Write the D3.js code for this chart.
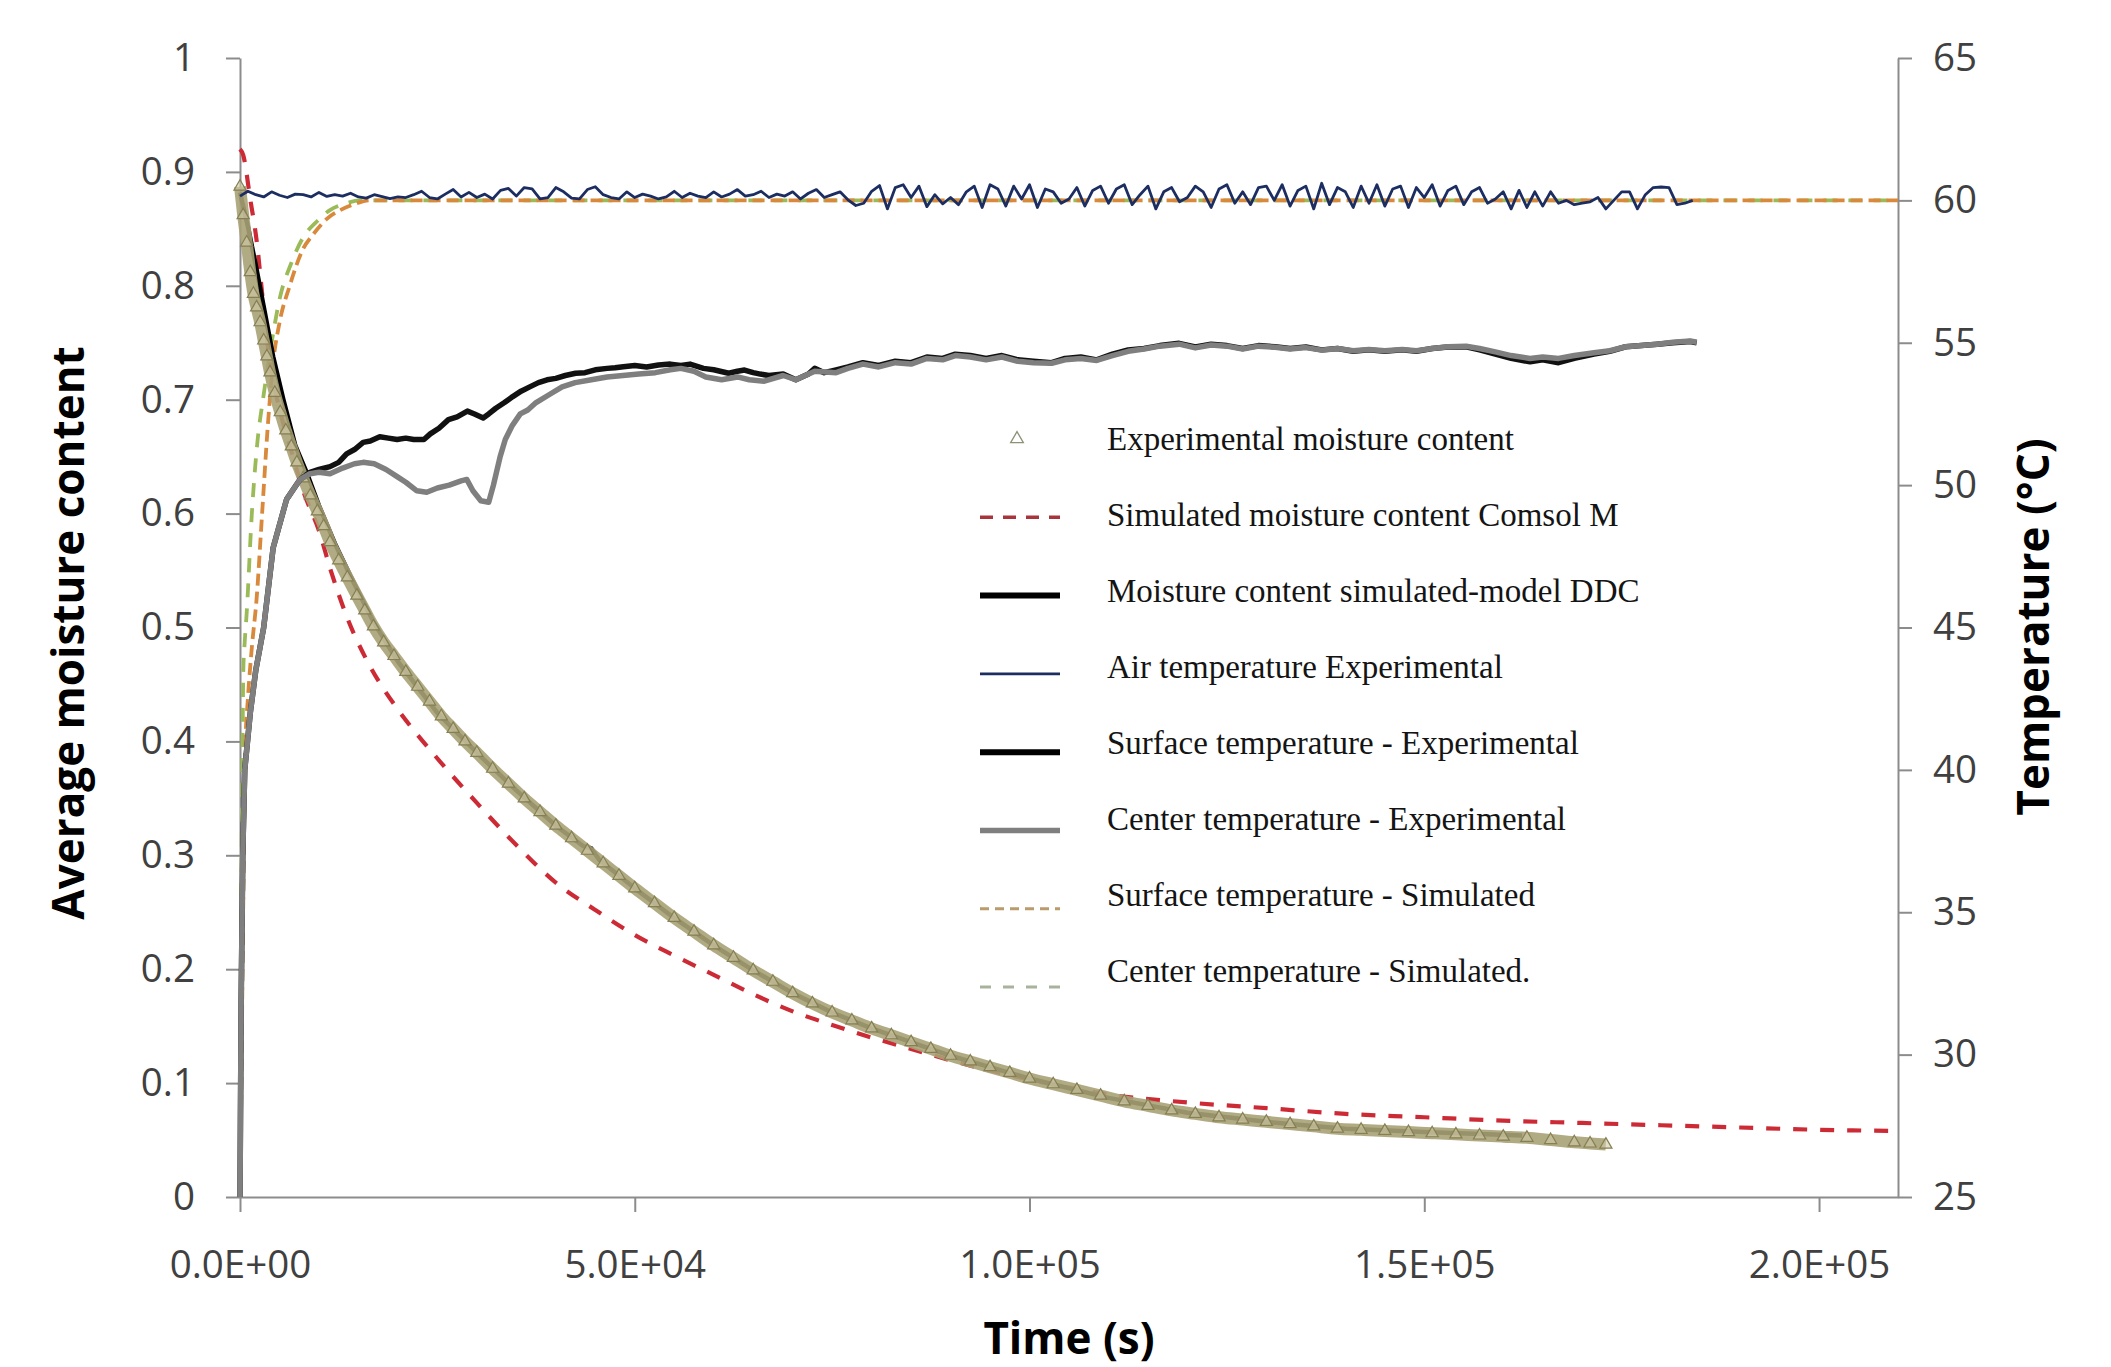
<!DOCTYPE html>
<html>
<head>
<meta charset="utf-8">
<script src="https://cdn.jsdelivr.net/npm/d3@7"></script>
<style>
  body { margin: 0; background: #fff; }
  svg { display: block; }
</style>
</head>
<body>
<div id="chart"></div>
<script>
// ---- data ----
const timeTicks = [0, 50000, 100000, 150000, 200000]
const moistureTicks = [0, 0.1, 0.2, 0.3, 0.4, 0.5, 0.6, 0.7, 0.8, 0.9, 1]
const tempTicks = [25, 30, 35, 40, 45, 50, 55, 60, 65]

// experimental moisture content [time s, moisture]
const expMoisture = [
  [0, 0.887], [400, 0.862], [850, 0.838], [1300, 0.812], [1700, 0.793], [2100, 0.781],
  [2550, 0.768], [3000, 0.752], [3400, 0.738], [3800, 0.724], [4400, 0.706], [5100, 0.689],
  [5800, 0.673], [6500, 0.659], [7200, 0.645], [8000, 0.631], [8900, 0.616], [9800, 0.602],
  [10600, 0.589], [11400, 0.575], [12500, 0.559], [13600, 0.544], [14800, 0.528], [15800, 0.515],
  [16900, 0.501], [18200, 0.487], [19500, 0.475], [21000, 0.461], [22500, 0.448], [24000, 0.435],
  [25500, 0.422], [27000, 0.411], [28500, 0.4], [30000, 0.39], [32000, 0.376], [34000, 0.363],
  [36000, 0.35], [38000, 0.338], [40000, 0.326], [42000, 0.315], [44000, 0.304], [46000, 0.293],
  [48000, 0.282], [50000, 0.271], [52500, 0.258], [55000, 0.245], [57500, 0.233], [60000, 0.221],
  [62500, 0.21], [65000, 0.199], [67500, 0.189], [70000, 0.179], [72500, 0.17], [75000, 0.162],
  [77500, 0.155], [80000, 0.148], [82500, 0.142], [85000, 0.136], [87500, 0.13], [90000, 0.124],
  [92500, 0.119], [95000, 0.114], [97500, 0.109], [100000, 0.104], [103000, 0.099], [106000, 0.094],
  [109000, 0.089], [112000, 0.084], [115000, 0.08], [118000, 0.076], [121000, 0.073], [124000, 0.07],
  [127000, 0.068], [130000, 0.066], [133000, 0.064], [136000, 0.062], [139000, 0.06], [142000, 0.059],
  [145000, 0.058], [148000, 0.057], [151000, 0.056], [154000, 0.055], [157000, 0.054], [160000, 0.053],
  [163000, 0.052], [166000, 0.05], [169000, 0.048], [171000, 0.047], [173000, 0.046]
]

// simulated moisture content, Comsol
const comsolMoisture = [
  [0, 0.92], [400, 0.915], [1300, 0.876], [2100, 0.84], [3000, 0.78], [3800, 0.732],
  [5000, 0.692], [6500, 0.655], [8000, 0.62], [10000, 0.585], [11500, 0.55], [13500, 0.51],
  [16000, 0.472], [18000, 0.448], [20000, 0.428], [25000, 0.385], [30000, 0.346], [35000, 0.309],
  [40000, 0.276], [45000, 0.252], [50000, 0.23], [55000, 0.212], [60000, 0.195], [65000, 0.178],
  [70000, 0.163], [75000, 0.151], [80000, 0.14], [85000, 0.13], [90000, 0.12], [95000, 0.111],
  [100000, 0.103], [105000, 0.096], [110000, 0.09], [120000, 0.083], [130000, 0.078], [140000, 0.073],
  [150000, 0.07], [160000, 0.067], [170000, 0.065], [180000, 0.063], [190000, 0.061], [200000, 0.059],
  [210000, 0.058]
]

// simulated moisture content, model DDC
const ddcMoisture = [
  [0, 0.882], [1000, 0.852], [2000, 0.818], [3000, 0.782], [4200, 0.738], [5500, 0.7],
  [7000, 0.66], [8450, 0.636], [10000, 0.607], [12000, 0.574], [14000, 0.545], [16900, 0.505],
  [20000, 0.47], [25000, 0.425], [30000, 0.39], [35000, 0.357], [40000, 0.326], [43500, 0.308],
  [44500, 0.306], [45500, 0.296], [50000, 0.271], [55000, 0.245], [60000, 0.221], [65000, 0.199],
  [70000, 0.179], [75000, 0.162], [80000, 0.148], [85000, 0.136], [90000, 0.124], [95000, 0.114],
  [100000, 0.104], [110000, 0.087], [120000, 0.074], [130000, 0.066], [140000, 0.06], [150000, 0.057],
  [162400, 0.054]
]

// air temperature, experimental, sampled every 1000 s from t = 0
const airStep = 1000
const airTemp = [
  60.15, 60.32, 60.2, 60.12, 60.3, 60.18, 60.1, 60.22, 60.2, 60.12,
  60.28, 60.14, 60.2, 60.15, 60.25, 60.12, 60.08, 60.2, 60.13, 60.06,
  60.12, 60.1, 60.2, 60.32, 60.1, 60.05, 60.22, 60.38, 60.12, 60.28,
  60.1, 60.22, 60.05, 60.35, 60.42, 60.15, 60.45, 60.4, 60.05, 60.1,
  60.45, 60.3, 60.08, 60.05, 60.38, 60.48, 60.2, 60.1, 60.05, 60.3,
  60.1, 60.22, 60.15, 60.05, 60.12, 60.32, 60.1, 60.25, 60.15, 60.1,
  60.3, 60.12, 60.22, 60.38, 60.15, 60.2, 60.32, 60.1, 60.22, 60.15,
  60.3, 60.05, 60.25, 60.38, 60.1, 60.2, 60.3, 60.02, 59.82, 59.9,
  60.32, 60.52, 59.7, 60.45, 60.55, 60.1, 60.5, 59.78, 60.2, 59.88,
  60.1, 59.85, 60.3, 60.5, 59.75, 60.55, 60.4, 59.8, 60.5, 60.05,
  60.55, 59.75, 60.4, 60.3, 59.9, 60.05, 60.45, 59.8, 60.35, 60.5,
  59.9, 60.4, 60.55, 59.85, 60.2, 60.5, 59.7, 60.3, 60.45, 59.95,
  60.1, 60.5, 60.3, 59.75, 60.4, 60.55, 59.9, 60.3, 59.85, 60.45,
  60.5, 60.0, 60.55, 59.8, 60.35, 60.5, 59.7, 60.6, 59.85, 60.45,
  60.3, 59.75, 60.5, 59.9, 60.55, 59.8, 60.4, 60.5, 59.75, 60.45,
  60.1, 60.55, 59.8, 60.35, 60.5, 59.85, 60.3, 60.45, 59.9, 60.05,
  60.3, 59.7, 60.35, 59.75, 60.3, 59.8, 60.3, 59.9, 60.0, 59.85,
  59.9, 59.95, 60.1, 59.7, 60.0, 60.3, 60.3, 59.7, 60.2, 60.45,
  60.47, 60.45, 59.85, 59.9, 60.0
]

// surface temperature, experimental [time s, degC]
const surfaceTemp = [
  [0, 25], [150, 32], [350, 37], [600, 40], [1300, 42], [2000, 43.5], [3000, 45], [4200, 47.8],
  [5900, 49.5], [7600, 50.2], [8870, 50.45], [10000, 50.55], [11400, 50.65], [12500, 50.8],
  [13500, 51.1], [14500, 51.25], [15600, 51.5], [16500, 51.55], [17700, 51.7], [18800, 51.65],
  [19900, 51.6], [21000, 51.65], [22000, 51.6], [23300, 51.6], [24100, 51.8], [25200, 52.0],
  [26400, 52.3], [27500, 52.4], [28800, 52.6], [29700, 52.5], [30800, 52.36], [31500, 52.5],
  [32400, 52.7], [33500, 52.9], [34500, 53.1], [35600, 53.3], [36700, 53.45], [37800, 53.6],
  [38900, 53.7], [40000, 53.75], [41200, 53.85], [42500, 53.93], [43700, 53.95], [45000, 54.05],
  [46500, 54.1], [47500, 54.12], [48550, 54.16], [50000, 54.2], [51500, 54.15], [53000, 54.22],
  [54500, 54.25], [55840, 54.2], [57000, 54.25], [58700, 54.1], [60000, 54.05], [61900, 53.93],
  [63000, 54.0], [63900, 54.04], [65000, 53.95], [65900, 53.9], [67000, 53.85], [68800, 53.9],
  [70400, 53.7], [72000, 53.9], [72800, 54.1], [74000, 53.95], [75500, 54.05], [77000, 54.15],
  [78900, 54.3], [80900, 54.2], [83000, 54.35], [85000, 54.3], [87000, 54.5], [89000, 54.45],
  [90600, 54.6], [92500, 54.55], [94500, 54.45], [96500, 54.55], [98500, 54.4], [100500, 54.35],
  [102800, 54.3], [104500, 54.45], [106500, 54.5], [108500, 54.4], [110500, 54.6], [112500, 54.75],
  [114500, 54.8], [116500, 54.9], [118950, 54.98], [121000, 54.85], [123000, 54.95], [125000, 54.9],
  [127000, 54.8], [129000, 54.9], [131100, 54.86], [133000, 54.8], [135000, 54.85], [137000, 54.75],
  [139000, 54.8], [141000, 54.7], [143000, 54.75], [145000, 54.7], [147200, 54.75], [149000, 54.7],
  [151000, 54.8], [153000, 54.85], [155300, 54.86], [157000, 54.75], [159000, 54.6], [161000, 54.45],
  [163400, 54.33], [165000, 54.4], [167000, 54.3], [169000, 54.45], [171500, 54.6], [173500, 54.7],
  [175500, 54.86], [177500, 54.9], [179500, 54.95], [181500, 55.0], [183700, 55.04], [184500, 55.0]
]

// center temperature, experimental [time s, degC]
const centerTemp = [
  [0, 25], [150, 32], [350, 37], [600, 40], [1300, 42], [2000, 43.5], [3000, 45], [4200, 47.8],
  [5900, 49.5], [7600, 50.2], [8870, 50.4], [10000, 50.45], [11400, 50.4], [13000, 50.6],
  [14500, 50.75], [15600, 50.8], [17000, 50.75], [18500, 50.55], [19900, 50.3], [21000, 50.1],
  [22400, 49.8], [23650, 49.75], [25000, 49.9], [26500, 50.0], [28000, 50.15], [28730, 50.2],
  [29500, 49.8], [30500, 49.45], [31500, 49.4], [32100, 50.0], [32950, 51.0], [33600, 51.6],
  [34500, 52.1], [35500, 52.5], [36450, 52.64], [37500, 52.9], [39300, 53.2], [40800, 53.45],
  [42450, 53.6], [44500, 53.7], [46500, 53.8], [48500, 53.85], [50500, 53.9], [52600, 53.95],
  [54500, 54.05], [55840, 54.1], [57500, 54.0], [59000, 53.8], [61000, 53.7], [63000, 53.8],
  [64500, 53.7], [66400, 53.65], [68800, 53.85], [70400, 53.7], [72800, 54.0], [75500, 53.95],
  [77000, 54.1], [78900, 54.25], [80900, 54.15], [83000, 54.3], [85000, 54.25], [87000, 54.45],
  [89000, 54.4], [90600, 54.55], [92500, 54.5], [94500, 54.4], [96500, 54.5], [98500, 54.35],
  [100500, 54.3], [102800, 54.28], [104500, 54.4], [106500, 54.45], [108500, 54.38], [110500, 54.55],
  [112500, 54.7], [114500, 54.78], [116500, 54.88], [118950, 54.95], [121000, 54.82], [123000, 54.92],
  [125000, 54.88], [127000, 54.78], [129000, 54.88], [131100, 54.84], [133000, 54.78], [135000, 54.83],
  [137000, 54.74], [139000, 54.8], [141000, 54.72], [143000, 54.76], [145000, 54.72], [147200, 54.76],
  [149000, 54.72], [151000, 54.8], [153000, 54.86], [155300, 54.88], [157000, 54.8], [159000, 54.68],
  [161000, 54.55], [163400, 54.45], [165000, 54.5], [167000, 54.45], [169000, 54.55], [171500, 54.65],
  [173500, 54.72], [175500, 54.86], [177500, 54.9], [179500, 54.95], [181500, 55.02], [183700, 55.06],
  [184500, 55.02]
]

// surface temperature, simulated
const surfaceSim = [
  [0, 25], [100, 27], [250, 31], [400, 35], [550, 38.5], [700, 41], [1000, 42.5], [1500, 44.3],
  [2100, 46], [2800, 49], [3500, 52], [4200, 54.3], [5000, 55.7], [6300, 57], [8000, 58.3],
  [9250, 58.8], [11000, 59.35], [12700, 59.66], [14500, 59.87], [16500, 60], [20000, 60],
  [210000, 60]
]

// center temperature, simulated
const centerSim = [
  [0, 25], [80, 30], [180, 36], [300, 40], [420, 43.5], [600, 44.5], [845, 45.5], [1500, 49],
  [2200, 51.5], [2960, 53.1], [4000, 55], [5070, 56.6], [6500, 57.8], [8000, 58.7], [9700, 59.25],
  [11400, 59.66], [13300, 59.88], [15200, 60], [20000, 60], [210000, 60]
]

const legendLabels = [
  'Experimental moisture content',
  'Simulated moisture content Comsol M',
  'Moisture content simulated-model DDC',
  'Air temperature Experimental',
  'Surface temperature - Experimental',
  'Center temperature - Experimental',
  'Surface temperature - Simulated',
  'Center temperature - Simulated.'
]

// ---- layout ----
const margin = { top: 58, left: 240, right: 213, bottom: 170 }
const width = 2111 - margin.left - margin.right
const height = 1367 - margin.top - margin.bottom

const svg = d3
  .select('#chart')
  .append('svg')
  .attr('width', width + margin.left + margin.right)
  .attr('height', height + margin.top + margin.bottom)
  .style('background', '#fff')

const g = svg
  .append('g')
  .attr('transform', `translate(${margin.left},${margin.top})`)

const x = d3.scaleLinear().domain([0, 210000]).range([0, width])
const yM = d3.scaleLinear().domain([0, 1]).range([height, 0])
const yT = d3.scaleLinear().domain([25, 65]).range([height, 0])

// Excel style 0.0E+00
function sci(v) {
  if (v === 0) return '0.0E+00'
  const e = Math.floor(Math.log10(v))
  return (v / Math.pow(10, e)).toFixed(1) + 'E+' + String(e).padStart(2, '0')
}

const tickFont = '"Open Sans", sans-serif'

function styleAxis(sel) {
  sel.select('.domain').attr('stroke', '#8c8c8c').attr('stroke-width', 2)
  sel.selectAll('.tick line').attr('stroke', '#8c8c8c').attr('stroke-width', 2)
  sel
    .selectAll('.tick text')
    .attr('fill', '#404040')
    .style('font-family', tickFont)
    .style('font-size', '38.5px')
}

g.append('g')
  .attr('transform', `translate(0,${height})`)
  .call(
    d3.axisBottom(x).tickValues(timeTicks).tickFormat(sci)
      .tickSizeInner(15).tickSizeOuter(0).tickPadding(39)
  )
  .call(styleAxis)

g.append('g')
  .call(
    d3.axisLeft(yM).tickValues(moistureTicks).tickFormat(d3.format('~g'))
      .tickSizeInner(14).tickSizeOuter(0).tickPadding(31)
  )
  .call(styleAxis)

g.append('g')
  .attr('transform', `translate(${width},0)`)
  .call(
    d3.axisRight(yT).tickValues(tempTicks)
      .tickSizeInner(14).tickSizeOuter(0).tickPadding(21)
  )
  .call(styleAxis)

// axis titles
const titleStyle = sel =>
  sel
    .style('font-family', tickFont)
    .style('font-weight', 700)
    .style('font-size', '44px')
    .attr('fill', '#000')
    .attr('text-anchor', 'middle')
    .attr('dominant-baseline', 'central')

svg.append('text')
  .text('Average moisture content')
  .attr('transform', 'translate(67,633) rotate(-90)')
  .call(titleStyle)

svg.append('text')
  .text('Temperature (°C)')
  .attr('transform', 'translate(2032,627) rotate(-90)')
  .call(titleStyle)

svg.append('text')
  .text('Time (s)')
  .attr('x', margin.left + width / 2)
  .attr('y', 1337)
  .call(titleStyle)

// ---- series ----
const lineM = d3.line().x(d => x(d[0])).y(d => yM(d[1]))
const lineT = d3.line().x(d => x(d[0])).y(d => yT(d[1]))
const smoothT = d3.line().curve(d3.curveMonotoneX).x(d => x(d[0])).y(d => yT(d[1]))
const smoothM = d3.line().curve(d3.curveMonotoneX).x(d => x(d[0])).y(d => yM(d[1]))

const plot = g.append('g')

function path(data, gen, stroke, w, dash) {
  return plot
    .append('path')
    .datum(data)
    .attr('d', gen)
    .attr('fill', 'none')
    .attr('stroke', stroke)
    .attr('stroke-width', w)
    .attr('stroke-dasharray', dash || null)
    .attr('stroke-linejoin', 'round')
}

path(centerSim, smoothT, '#9bbb59', 3.8, '14,11')
path(surfaceSim, smoothT, '#d8893b', 3.8, '12,6')
path(comsolMoisture, smoothM, '#cc2b36', 4.2, '14,13')
path(ddcMoisture, lineM, '#000', 4.5)

// experimental moisture: dense triangle markers drawn as a band
path(expMoisture, smoothM, '#a8a277', 12).attr('stroke-opacity', 0.9)
plot
  .selectAll('.exp-marker')
  .data(expMoisture)
  .enter()
  .append('path')
  .attr('class', 'exp-marker')
  .attr('d', d3.symbol().type(d3.symbolTriangle).size(64))
  .attr('transform', d => `translate(${x(d[0])},${yM(d[1])})`)
  .attr('fill', '#cfc9a6')
  .attr('fill-opacity', 0.6)
  .attr('stroke', '#857f52')
  .attr('stroke-width', 1.2)

path(surfaceTemp, lineT, '#111', 5.5)
path(centerTemp, lineT, '#7f7f7f', 5.5)
path(airTemp.map((v, i) => [i * airStep, v]), lineT, '#1c2d62', 2.8)

// ---- legend ----
const legend = svg.append('g')
const rowY = i => 439 + i * 76
const symY = i => rowY(i) + i * 2.3

legend
  .selectAll('.legend-label')
  .data(legendLabels)
  .enter()
  .append('text')
  .attr('class', 'legend-label')
  .text(d => d)
  .attr('x', 1107)
  .attr('y', (d, i) => rowY(i))
  .attr('dominant-baseline', 'central')
  .style('font-family', '"Liberation Serif", "Times New Roman", serif')
  .style('font-size', '33px')
  .attr('fill', '#141414')

legend.append('path')
  .attr('d', d3.symbol().type(d3.symbolTriangle).size(70))
  .attr('transform', `translate(1017,${symY(0)})`)
  .attr('fill', 'none')
  .attr('stroke', '#8f9177')
  .attr('stroke-width', 1.3)

const legendLines = [
  { i: 1, stroke: '#a8343c', w: 3.5, dash: '13,10' },
  { i: 2, stroke: '#000', w: 6 },
  { i: 3, stroke: '#1c2d62', w: 2.6 },
  { i: 4, stroke: '#000', w: 6 },
  { i: 5, stroke: '#7f7f7f', w: 5.5 },
  { i: 6, stroke: '#bb9a6c', w: 3, dash: '9,6' },
  { i: 7, stroke: '#a9b39b', w: 3, dash: '11,12' }
]

legend
  .selectAll('.legend-line')
  .data(legendLines)
  .enter()
  .append('line')
  .attr('class', 'legend-line')
  .attr('x1', 980)
  .attr('x2', 1060)
  .attr('y1', d => symY(d.i))
  .attr('y2', d => symY(d.i))
  .attr('stroke', d => d.stroke)
  .attr('stroke-width', d => d.w)
  .attr('stroke-dasharray', d => d.dash || null)
</script>
</body>
</html>
